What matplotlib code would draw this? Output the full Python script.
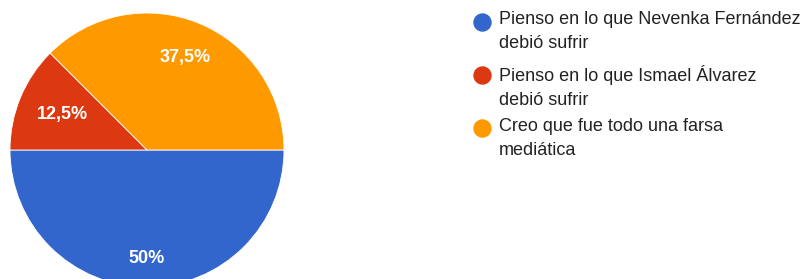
import matplotlib.pyplot as plt
import numpy as np

labels = ["Pienso en lo que Nevenka Fernández\ndebió sufrir",
          "Pienso en lo que Ismael Álvarez\ndebió sufrir",
          "Creo que fue todo una farsa\nmediática"]
values = [50, 12.5, 37.5]
pct_text = ["50%", "12,5%", "37,5%"]
colors = ["#3366CC", "#DC3912", "#FF9900"]

plt.rcParams['font.family'] = ['Liberation Sans', 'DejaVu Sans']

W, H = 808, 279
fig = plt.figure(figsize=(W / 100, H / 100), dpi=100)
ax = fig.add_axes([0, 0, 1, 1])

# pie in pixel coords (y up)
cx, cy, r = 147, H - 150, 137
wedges, _ = ax.pie(values, colors=colors, startangle=0, counterclock=False,
                   center=(cx, cy), radius=r,
                   wedgeprops=dict(edgecolor='white', linewidth=0.6))

# percentage labels, radial fraction per slice (google puts them a bit unevenly)
label_dist = [0.79, 0.67, 0.73]
for w, t, d in zip(wedges, pct_text, label_dist):
    ang = np.deg2rad((w.theta1 + w.theta2) / 2)
    ax.text(cx + d * r * np.cos(ang), cy + d * r * np.sin(ang), t,
            ha='center', va='center', color='white', fontsize=13,
            fontweight='bold')

# legend, drawn by hand so the dot sits on the first line
for i, (lab, col) in enumerate(zip(labels, colors)):
    ytop = 21.5 + i * 53.3
    ax.scatter([482], [H - ytop], s=150, color=col, zorder=3)
    ax.text(499, H - ytop + 10, lab, ha='left', va='top',
            fontsize=13, color='#222222', linespacing=1.52)

ax.set_xlim(0, W)
ax.set_ylim(0, H)
ax.set_aspect('equal')
ax.axis('off')

fig.savefig('out.png', dpi=100)
